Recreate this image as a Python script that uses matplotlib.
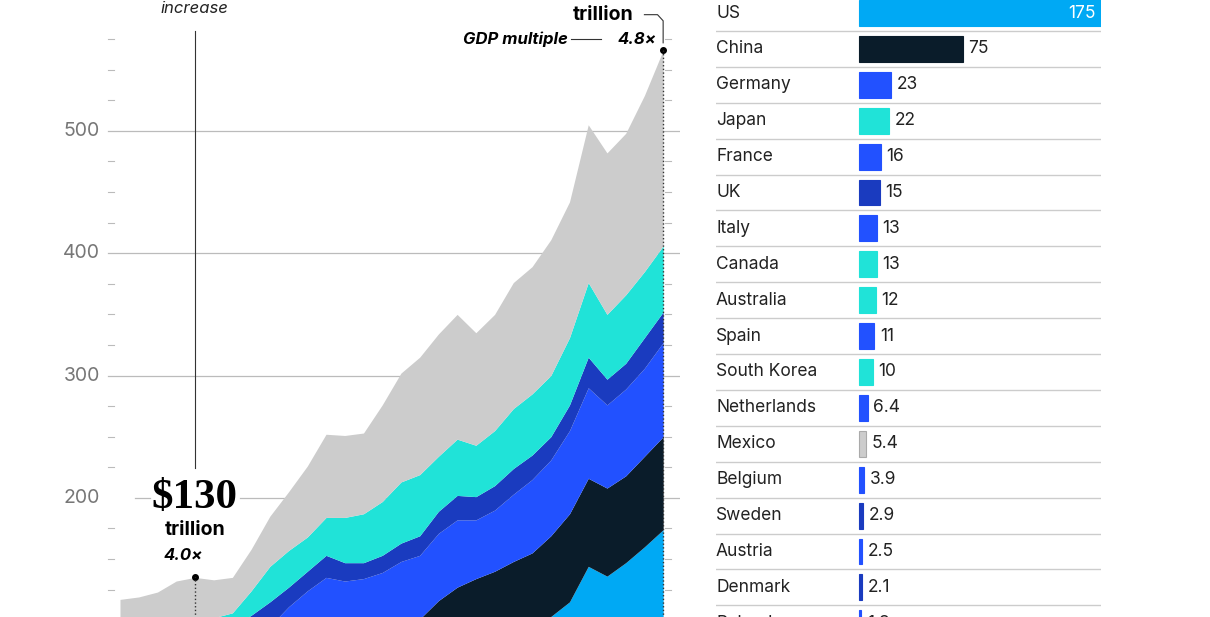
import matplotlib
matplotlib.use("Agg")
import matplotlib.pyplot as plt
import numpy as np

plt.rcParams["font.family"] = ["Inter", "DejaVu Sans"]

years = np.arange(1992, 2022)
# cumulative layer tops, $ trillion (bottom layer first)
top_lightblue = [40, 42, 44, 47, 49, 50, 52, 55, 58, 60, 62, 64, 66, 68, 70, 72, 74, 76, 78, 80, 83, 86, 92, 103, 115, 144, 136, 147, 160, 174]
top_black = [48, 50, 53, 56, 58, 60, 63, 67, 72, 76, 80, 84, 87, 90, 93, 97, 101, 116, 127, 134, 140, 148, 155, 169, 187, 216, 208, 218, 234, 250]
top_blue = [60, 63, 66, 70, 73, 75, 80, 88, 95, 111, 124, 135, 132, 134, 139, 148, 153, 171, 182, 182, 190, 203, 215, 231, 255, 290, 276, 289, 306, 327]
top_navy = [75, 78, 81, 85, 88, 90, 95, 104, 115, 127, 140, 153, 147, 147, 153, 163, 169, 189, 202, 201, 210, 224, 235, 250, 276, 315, 297, 310, 331, 352]
top_teal = [95, 96, 97, 99, 103, 102, 106, 124, 144, 157, 168, 184, 184, 187, 197, 213, 219, 234, 248, 243, 255, 273, 285, 300, 331, 376, 350, 366, 385, 406]
top_gray = [117, 119, 123, 132, 135, 133, 135, 158, 185, 205, 226, 252, 251, 253, 276, 302, 315, 334, 350, 335, 350, 376, 389, 411, 442, 505, 482, 498, 529, 566]

countries = ["US", "China", "Germany", "Japan", "France", "UK", "Italy", "Canada", "Australia",
             "Spain", "South Korea", "Netherlands", "Mexico", "Belgium", "Sweden", "Austria",
             "Denmark", "Poland"]
values = [175, 75, 23, 22, 16, 15, 13, 13, 12, 11, 10, 6.4, 5.4, 3.9, 2.9, 2.5, 2.1, 1.8]
value_labels = ["175", "75", "23", "22", "16", "15", "13", "13", "12", "11", "10", "6.4", "5.4",
                "3.9", "2.9", "2.5", "2.1", "1.8"]

LIGHTBLUE, BLACK, BLUE, NAVY, TEAL, GRAY = "#00a9f4", "#0a1c2a", "#2251ff", "#1a3bbf", "#20e3d8", "#cccccc"
bar_colors = [LIGHTBLUE, BLACK, BLUE, TEAL, BLUE, NAVY, BLUE, TEAL, TEAL, BLUE, TEAL, BLUE, GRAY,
              BLUE, NAVY, BLUE, NAVY, BLUE]

W, H = 1210, 617
fig = plt.figure(figsize=(W / 100, H / 100), dpi=100)

# ---- left: stacked area ----
ax = fig.add_axes([105 / W, 0, 575 / W, 1])
px = 1 / 18.72  # one pixel in x data units
xl = years[0] - 0.8
ax.set_xlim(xl, years[0] + 29.9)
ax.set_ylim(102.6, 607)
ax.axis("off")

for v in (200, 300, 400, 500):
    ax.text(xl - 5 * px, v, str(v), ha="right", va="center", fontsize=14, color="#777777")
for v in (300, 400, 500):
    ax.plot([xl + 3 * px, years[0] + 29.9], [v, v], color="#bbbbbb", lw=0.9, zorder=0)
ax.plot([xl + 30 * px, xl + 45 * px], [200, 200], color="#bbbbbb", lw=0.9)
ax.plot([xl + 135 * px, years[0] + 29.9], [200, 200], color="#bbbbbb", lw=0.9, zorder=0)
for v in np.arange(125, 600, 25):
    if v % 100:
        ax.plot([xl + 3 * px, xl + 9 * px], [v, v], color="#bbbbbb", lw=0.8)
        ax.plot([years[-1] + 0.1, years[-1] + 0.4], [v, v], color="#bbbbbb", lw=0.8)

layers = [np.zeros(len(years)), top_lightblue, top_black, top_blue, top_navy, top_teal, top_gray]
cols = [LIGHTBLUE, BLACK, BLUE, NAVY, TEAL, GRAY]
for i, c in enumerate(cols):
    ax.fill_between(years, layers[i], layers[i + 1], color=c, lw=0, zorder=1)

# annotations
xa = years[4]
ax.plot([xa, xa], [224, 582], color="#333333", lw=0.8)
ax.text(xa, 594, "increase", ha="center", va="bottom", fontsize=12, style="italic", color="#222222")
ax.text(xa, 200, "$130", ha="center", va="center", fontsize=31, family="Liberation Serif", weight="bold")
ax.text(xa, 174, "trillion", ha="center", va="center", fontsize=14, weight="bold")
ax.text(xa - 0.6, 153, "4.0×", ha="center", va="center", fontsize=12, weight="bold", style="italic")
ax.plot([xa], [top_gray[4]], "o", color="black", ms=4)
ax.plot([xa, xa], [0, top_gray[4]], ":", color="#333333", lw=1)

xe = years[-1]
ax.plot([xe], [top_gray[-1]], "o", color="black", ms=4)
ax.plot([xe, xe], [0, top_gray[-1]], ":", color="#333333", lw=1, zorder=3)
ax.text(xe - 1.6, 595, "trillion", ha="right", va="center", fontsize=14, weight="bold")
ax.plot([xe - 1.0, xe - 0.3, xe, xe], [595, 595, 590, 572], color="#333333", lw=0.8)
ax.text(xe - 1.4, 575, "4.8×", ha="center", va="center", fontsize=12, weight="bold", style="italic")
ax.plot([xe - 4.9, xe - 3.3], [575, 575], color="#333333", lw=0.8)
ax.text(xe - 5.1, 575, "GDP multiple", ha="right", va="center", fontsize=12, weight="bold", style="italic")

# ---- right: bars ----
ax2 = fig.add_axes([716 / W, 0, 385 / W, 1])
ax2.set_xlim(-103.4, 175)
ax2.set_ylim((H - 13) / 35.9, -13 / 35.9)
ax2.axis("off")
ypos = np.arange(len(countries))
ax2.barh(ypos, values, left=0, height=0.72, color=bar_colors,
         edgecolor=["#aaaaaa" if c == GRAY else c for c in bar_colors], lw=0.8)
for i, (name, v, lab) in enumerate(zip(countries, values, value_labels)):
    ax2.text(-103.4, i, name, ha="left", va="center", fontsize=12.5, color="#222222")
    if i == 0:
        ax2.text(v - 4, i, lab, ha="right", va="center", fontsize=12.5, color="white")
    else:
        ax2.text(v + 4, i, lab, ha="left", va="center", fontsize=12.5, color="#222222")
    ax2.plot([-103.4, 175], [i + 0.5, i + 0.5], color="#cccccc", lw=1)

fig.savefig("out.png", dpi=100)
